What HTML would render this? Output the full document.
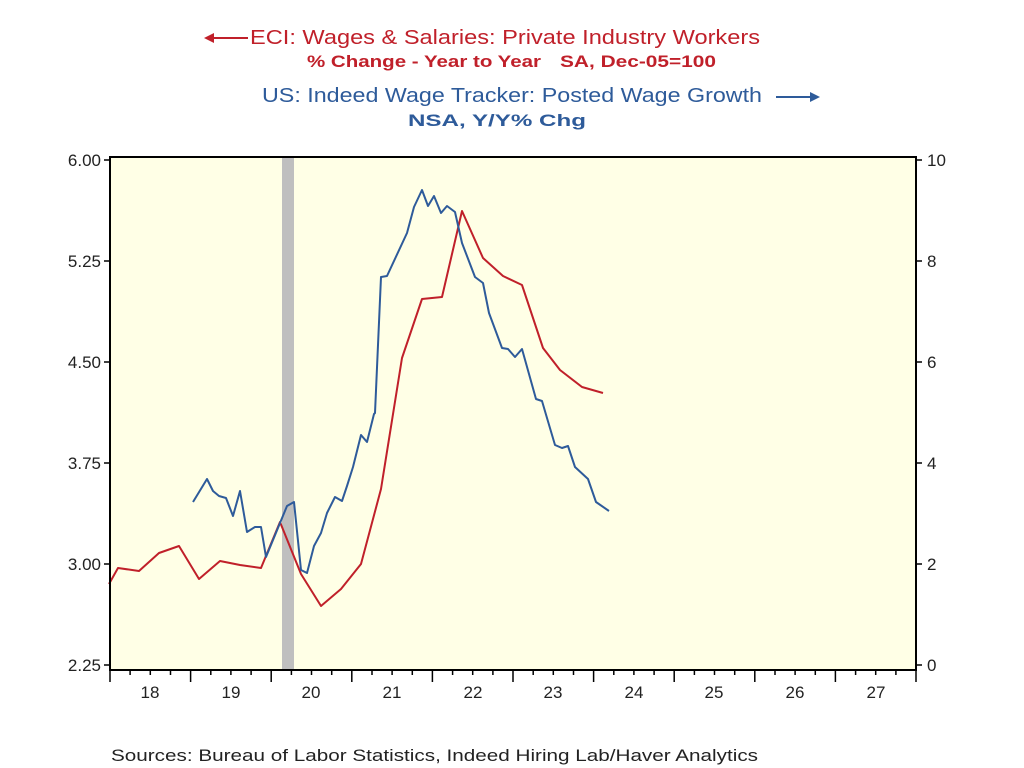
<!DOCTYPE html>
<html><head><meta charset="utf-8"><style>
html,body{margin:0;padding:0;background:#fff;}
svg{display:block;font-family:"Liberation Sans",Arial,sans-serif;}
</style></head><body>
<svg width="1024" height="768" viewBox="0 0 1024 768" xmlns="http://www.w3.org/2000/svg">
<rect width="1024" height="768" fill="#fff"/>
<line x1="210" y1="38" x2="248" y2="38" stroke="#c0202a" stroke-width="2"/>
<polygon points="204,38 214,33 214,43" fill="#c0202a"/>
<text x="250" y="44" font-size="20" fill="#c0202a" textLength="510" lengthAdjust="spacingAndGlyphs">ECI: Wages &amp; Salaries: Private Industry Workers</text>
<text x="307" y="67" font-size="17" font-weight="bold" fill="#c0202a" textLength="234" lengthAdjust="spacingAndGlyphs">% Change - Year to Year</text>
<text x="560" y="67" font-size="17" font-weight="bold" fill="#c0202a" textLength="156" lengthAdjust="spacingAndGlyphs">SA, Dec-05=100</text>
<text x="262" y="102" font-size="20" fill="#2e5b9a" textLength="500" lengthAdjust="spacingAndGlyphs">US: Indeed Wage Tracker: Posted Wage Growth</text>
<line x1="776" y1="97" x2="814" y2="97" stroke="#2e5b9a" stroke-width="2"/>
<polygon points="820,97 810,92 810,102" fill="#2e5b9a"/>
<text x="408" y="126" font-size="17" font-weight="bold" fill="#2e5b9a" textLength="178" lengthAdjust="spacingAndGlyphs">NSA, Y/Y% Chg</text>
<rect x="110" y="157" width="806" height="513" fill="#ffffe6"/>
<rect x="282" y="157" width="12" height="513" fill="#bfbfbf"/>
<polyline fill="none" stroke="#c0202a" stroke-width="2" stroke-linejoin="round" points="109,584 118,568 139,571 159,553 179,546 199,579 220,561 240,565 261,568 280,522 301,574 321,606 341,589 361,564 381,489 402,358 422,299 442,297 462,211 483,258 503,276 522,285 543,348 560,370 582,387 603,393"/>
<polyline fill="none" stroke="#2e5b9a" stroke-width="2" stroke-linejoin="round" points="193,502 207,479 213,491 219,496 226,498 233,516 240,491 247,532 255,527 261,527 266,557 287,506 294,502 301,570 307,573 314,546 321,533 327,513 335,497 342,501 347,486 353,467 361,435 367,442 374,414 375,413 381,277 387,276 407,233 414,207 422,190 428,206 434,196 441,213 447,206 455,212 462,243 475,277 483,283 489,313 502,348 508,349 515,357 522,349 536,399 542,401 547,418 555,445 562,448 568,446 575,467 588,479 596,502 609,511"/>
<rect x="110" y="157" width="806" height="513" fill="none" stroke="#000" stroke-width="2"/>
<g stroke="#000" stroke-width="1.5">
<line x1="104" y1="160" x2="110" y2="160"/><line x1="104" y1="261" x2="110" y2="261"/><line x1="104" y1="362" x2="110" y2="362"/><line x1="104" y1="463" x2="110" y2="463"/><line x1="104" y1="564" x2="110" y2="564"/><line x1="104" y1="665" x2="110" y2="665"/>
<line x1="916" y1="160" x2="922" y2="160"/><line x1="916" y1="261" x2="922" y2="261"/><line x1="916" y1="362" x2="922" y2="362"/><line x1="916" y1="463" x2="922" y2="463"/><line x1="916" y1="564" x2="922" y2="564"/><line x1="916" y1="665" x2="922" y2="665"/>
</g>
<g font-size="17" fill="#222" text-anchor="end">
<text x="101" y="166">6.00</text><text x="101" y="267">5.25</text><text x="101" y="368">4.50</text><text x="101" y="469">3.75</text><text x="101" y="570">3.00</text><text x="101" y="671">2.25</text>
</g>
<g font-size="17" fill="#222">
<text x="927" y="166">10</text><text x="927" y="267">8</text><text x="927" y="368">6</text><text x="927" y="469">4</text><text x="927" y="570">2</text><text x="927" y="671">0</text>
</g>
<g stroke="#000" stroke-width="1.5">
<line x1="110.0" y1="670" x2="110.0" y2="682"/><line x1="130.1" y1="670" x2="130.1" y2="675"/><line x1="150.3" y1="670" x2="150.3" y2="675"/><line x1="170.5" y1="670" x2="170.5" y2="675"/>
<line x1="190.6" y1="670" x2="190.6" y2="682"/><line x1="210.8" y1="670" x2="210.8" y2="675"/><line x1="230.9" y1="670" x2="230.9" y2="675"/><line x1="251.1" y1="670" x2="251.1" y2="675"/>
<line x1="271.2" y1="670" x2="271.2" y2="682"/><line x1="291.4" y1="670" x2="291.4" y2="675"/><line x1="311.5" y1="670" x2="311.5" y2="675"/><line x1="331.7" y1="670" x2="331.7" y2="675"/>
<line x1="351.8" y1="670" x2="351.8" y2="682"/><line x1="372.0" y1="670" x2="372.0" y2="675"/><line x1="392.1" y1="670" x2="392.1" y2="675"/><line x1="412.3" y1="670" x2="412.3" y2="675"/>
<line x1="432.4" y1="670" x2="432.4" y2="682"/><line x1="452.6" y1="670" x2="452.6" y2="675"/><line x1="472.7" y1="670" x2="472.7" y2="675"/><line x1="492.9" y1="670" x2="492.9" y2="675"/>
<line x1="513.0" y1="670" x2="513.0" y2="682"/><line x1="533.2" y1="670" x2="533.2" y2="675"/><line x1="553.3" y1="670" x2="553.3" y2="675"/><line x1="573.5" y1="670" x2="573.5" y2="675"/>
<line x1="593.6" y1="670" x2="593.6" y2="682"/><line x1="613.8" y1="670" x2="613.8" y2="675"/><line x1="633.9" y1="670" x2="633.9" y2="675"/><line x1="654.1" y1="670" x2="654.1" y2="675"/>
<line x1="674.2" y1="670" x2="674.2" y2="682"/><line x1="694.4" y1="670" x2="694.4" y2="675"/><line x1="714.5" y1="670" x2="714.5" y2="675"/><line x1="734.7" y1="670" x2="734.7" y2="675"/>
<line x1="754.8" y1="670" x2="754.8" y2="682"/><line x1="775.0" y1="670" x2="775.0" y2="675"/><line x1="795.1" y1="670" x2="795.1" y2="675"/><line x1="815.3" y1="670" x2="815.3" y2="675"/>
<line x1="835.4" y1="670" x2="835.4" y2="682"/><line x1="855.6" y1="670" x2="855.6" y2="675"/><line x1="875.7" y1="670" x2="875.7" y2="675"/><line x1="895.9" y1="670" x2="895.9" y2="675"/>
<line x1="916.0" y1="670" x2="916.0" y2="682"/>
</g>
<g font-size="17" fill="#222" text-anchor="middle">
<text x="150" y="698">18</text><text x="231" y="698">19</text><text x="311" y="698">20</text><text x="392" y="698">21</text><text x="473" y="698">22</text><text x="553" y="698">23</text><text x="634" y="698">24</text><text x="714" y="698">25</text><text x="795" y="698">26</text><text x="876" y="698">27</text>
</g>
<text x="111" y="761" font-size="17" fill="#222" textLength="647" lengthAdjust="spacingAndGlyphs">Sources:  Bureau of Labor Statistics, Indeed Hiring Lab/Haver Analytics</text>
</svg>
</body></html>
